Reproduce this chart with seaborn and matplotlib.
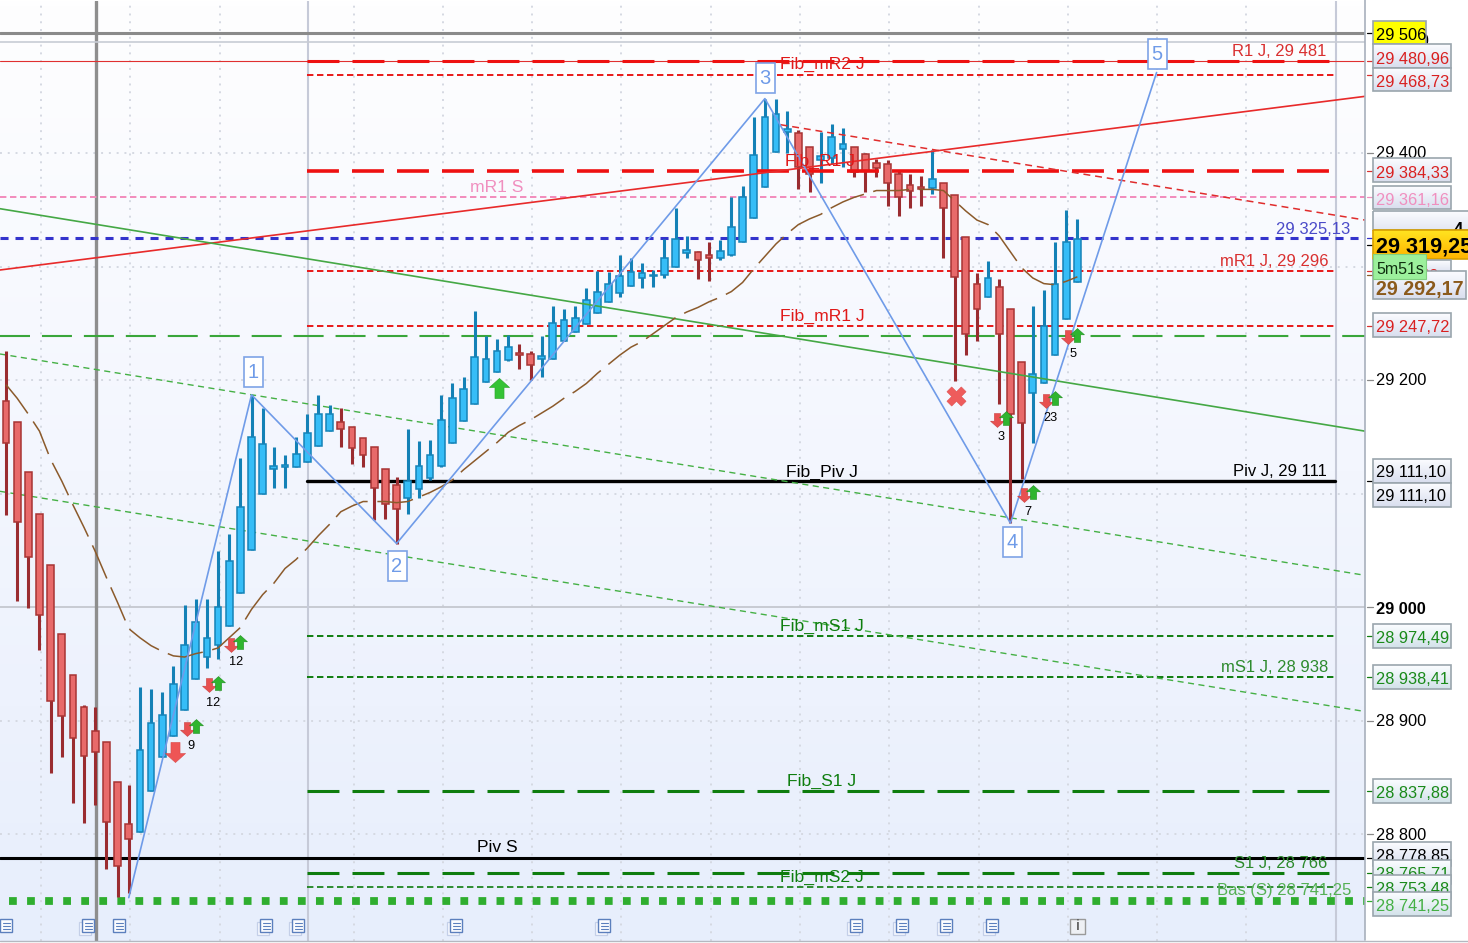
import matplotlib
matplotlib.use("Agg")
import matplotlib.pyplot as plt
import seaborn as sns
import numpy as np
from matplotlib.colors import LinearSegmentedColormap
from matplotlib.patches import Rectangle
from matplotlib.path import Path

# candles
opens = [29182, 29163, 29119, 29082, 29037, 28976, 28940, 28912, 28891, 28881, 28846, 28809,
         28802, 28838, 28868, 28886, 28909, 28937, 28956, 28967, 28983, 29012, 29050, 29100,
         29122, 29123, 29123, 29128, 29142, 29155, 29163, 29159, 29149, 29141, 29122, 29108,
         29096, 29104, 29114, 29124, 29145, 29164, 29179, 29198, 29207, 29218, 29224, 29223,
         29219, 29219, 29234, 29242, 29249, 29259, 29269, 29277, 29283, 29290, 29292, 29293,
         29300, 29312, 29313, 29310, 29308, 29310, 29322, 29343, 29370, 29401, 29419, 29418,
         29405, 29394, 29396, 29404, 29405, 29399, 29391, 29390, 29382, 29372, 29370, 29369,
         29374, 29363, 29326, 29285, 29273, 29282, 29263, 29216, 29189, 29197, 29222, 29254, 29286]
highs = [29226, 29163, 29119, 29082, 29037, 28976, 28940, 28914, 28912, 28881, 28846, 28843,
         28930, 28928, 28925, 28948, 29002, 29007, 29007, 29049, 29064, 29131, 29187, 29175,
         29141, 29134, 29150, 29170, 29187, 29178, 29175, 29159, 29149, 29141, 29122, 29115,
         29157, 29146, 29147, 29187, 29197, 29203, 29261, 29239, 29236, 29240, 29232, 29226,
         29239, 29265, 29263, 29265, 29281, 29296, 29295, 29310, 29308, 29303, 29297, 29324,
         29352, 29327, 29314, 29322, 29323, 29361, 29371, 29432, 29448, 29448, 29437, 29420,
         29405, 29419, 29426, 29422, 29405, 29400, 29395, 29394, 29384, 29382, 29380, 29403,
         29374, 29363, 29326, 29294, 29305, 29289, 29263, 29216, 29265, 29279, 29322, 29350, 29342]
lows = [29081, 29005, 28999, 28962, 28854, 28868, 28827, 28810, 28826, 28769, 28745, 28748,
        28802, 28838, 28868, 28886, 28909, 28937, 28946, 28954, 28983, 29012, 29050, 29100,
        29105, 29105, 29123, 29128, 29142, 29155, 29141, 29126, 29123, 29077, 29078, 29056,
        29082, 29096, 29112, 29123, 29145, 29164, 29179, 29198, 29207, 29217, 29210, 29200,
        29203, 29219, 29234, 29242, 29249, 29259, 29269, 29273, 29283, 29281, 29282, 29290,
        29300, 29308, 29289, 29287, 29306, 29309, 29322, 29343, 29370, 29401, 29400, 29368,
        29366, 29374, 29390, 29388, 29379, 29366, 29379, 29353, 29345, 29352, 29353, 29364,
        29308, 29199, 29222, 29234, 29273, 29179, 29074, 29113, 29145, 29197, 29222, 29254, 29286]
closes = [29145, 29075, 29044, 28993, 28917, 28904, 28885, 28869, 28872, 28811, 28772, 28796,
          28874, 28898, 28905, 28932, 28967, 28987, 28973, 29000, 29041, 29088, 29150, 29144,
          29124, 29125, 29135, 29153, 29170, 29170, 29157, 29140, 29134, 29105, 29091, 29086,
          29111, 29124, 29134, 29165, 29184, 29192, 29220, 29219, 29226, 29229, 29222, 29213,
          29221, 29250, 29253, 29255, 29271, 29278, 29285, 29292, 29295, 29294, 29293, 29308,
          29324, 29315, 29306, 29308, 29314, 29335, 29361, 29398, 29432, 29434, 29421, 29388,
          29382, 29397, 29414, 29408, 29383, 29384, 29387, 29374, 29361, 29367, 29368, 29377,
          29352, 29291, 29241, 29263, 29290, 29241, 29170, 29162, 29205, 29248, 29285, 29322, 29324]

# moving average, one value per candle
moving_avg = [29196, 29184, 29170, 29155, 29130, 29111, 29090, 29070, 29049, 29026, 29004, 28981,
              28973, 28966, 28961, 28957, 28956, 28959, 28961, 28964, 28973, 28982, 28998, 29011,
              29021, 29034, 29042, 29052, 29063, 29073, 29084, 29089, 29093, 29093, 29093, 29092,
              29093, 29097, 29101, 29106, 29112, 29121, 29129, 29137, 29145, 29154, 29160, 29165,
              29171, 29177, 29184, 29190, 29197, 29206, 29214, 29222, 29229, 29234, 29241, 29248,
              29255, 29260, 29264, 29269, 29273, 29278, 29286, 29298, 29309, 29320, 29329, 29337,
              29342, 29346, 29352, 29357, 29361, 29364, 29367, 29367, 29367, 29368, 29368, 29368,
              29367, 29358, 29349, 29341, 29337, 29327, 29313, 29299, 29290, 29285, 29284, 29287, 29291]

# elliott wave pivots
wave_idx = [11, 22, 35, 68, 90, 103.1]
wave_price = [28744, 29187, 29056, 29448, 29074, 29471]

# support / resistance levels
level_r1 = 29480.96
level_fib_mr2 = 29468.73
level_fib_r1 = 29384.33
level_mr1_s = 29361.16
level_blue = 29325.13
level_mr1_j = 29296
level_fib_mr1 = 29247.72
level_green = 29239
level_piv_j = 29111.10
level_fib_ms1 = 28974.49
level_ms1_j = 28938.41
level_fib_s1 = 28837.88
level_piv_s = 28778.85
level_s1_j = 28765.71
level_fib_ms2 = 28753.48
level_bas = 28741.25
level_top = 29506
level_top2 = 29498

# signals: number under each pair of arrows
signal_idx = [16.6, 18.6, 20.6, 89.2, 93.6, 91.6, 95.6]
signal_price = [28893, 28931, 28967, 29165, 29182, 29099, 29238]
signal_count = ["9", "12", "12", "3", "23", "7", "5"]

grid_idx = [3.15, 11.15, 19.15, 31.15, 39.15, 47.15, 55.15, 63.15, 71.15, 79.15, 87.15, 95.15, 103.15, 111.15]
price_ticks = [28800, 28900, 29100, 29200, 29300, 29400]

sns.set_theme(style="white")
plt.rcParams["font.family"] = ["Liberation Sans", "DejaVu Sans"]
plt.rcParams["lines.scale_dashes"] = False

W, H = 1468, 943
fig = plt.figure(figsize=(W / 100, H / 100), dpi=100, facecolor="white")
ax = fig.add_axes([0, 2 / H, 1365 / W, 940 / H])

cmap = LinearSegmentedColormap.from_list("bg", ["#fefeff", "#f3f6fe", "#e7eefc"])
ax.imshow(np.linspace(0, 1, 200).reshape(-1, 1), aspect="auto", cmap=cmap, extent=[0, 1, 0, 1],
          transform=ax.transAxes, zorder=0)

x_lo, x_hi = -6 / 11.16, 1359 / 11.16
ax.set_xlim(x_lo, x_hi)
ax.set_ylim(28705.8, 29534)
ax.set_xticks(grid_idx)
ax.set_yticks(price_ticks)
ax.set_xticklabels([])
ax.set_yticklabels([])
ax.grid(True, color="#d5d9e2", lw=1.4, linestyle=(0, (1.4, 4.2)), zorder=1)
ax.tick_params(left=False, bottom=False)
for s in ax.spines.values():
    s.set_visible(False)
ax.axhline(29000, color="#c4c7cf", lw=1.3, zorder=1)


def draw_line(xs, ys, color, lw, dash=None, z=2):
    sns.lineplot(x=xs, y=ys, ax=ax, color=color, lw=lw, estimator=None, legend=False, zorder=z,
                 linestyle=dash if dash else "-")


def session(price, color, lw, dash, z=2):
    draw_line([27, 119.1], [price, price], color, lw, dash, z)


def full(price, color, lw, dash=None, z=2):
    draw_line([x_lo, x_hi], [price, price], color, lw, dash, z)


LONG = (0, (23, 9.4))
SHORT = (0, (4.6, 2.6))
GREEN_LONG = (0, (21.6, 8.6))

ax.axvline(8.06, color="#8e8e8e", lw=2.4, zorder=2)
ax.axvline(27.06, color="#c6cad8", lw=1.5, zorder=2)
ax.axvline(119.2, color="#c6cad8", lw=1.5, zorder=2)

full(level_top, "#8a8a8a", 2.2)
full(level_top2, "#c8ccd4", 1.2)
full(level_r1, "#e03030", 0.8)
session(level_r1, "#ee1111", 2.2, LONG, 4)
session(level_fib_mr2, "#e81818", 1.4, SHORT)
session(level_fib_r1, "#ee1111", 2.6, LONG, 4)
full(level_mr1_s, "#f28cbc", 1.4, SHORT)
full(level_blue, "#3333cc", 2.2, (0, (5.8, 5)))
session(level_mr1_j, "#e81818", 1.4, SHORT)
session(level_fib_mr1, "#e81818", 1.4, SHORT)
full(level_green, "#3aa63a", 1.5, GREEN_LONG)
session(level_piv_j, "black", 2.4, None)
session(level_fib_ms1, "#0e7d0e", 1.4, SHORT)
session(level_ms1_j, "#0e7d0e", 1.4, SHORT)
session(level_fib_s1, "#0e7d0e", 2.2, LONG)
full(level_piv_s, "black", 2.2)
session(level_s1_j, "#0e7d0e", 2.2, LONG)
session(level_fib_ms2, "#0e7d0e", 1.2, SHORT)
full(level_bas, "#2fae2f", 5.6, (6.5, (5.6, 7.4)))

# trend lines
draw_line([x_lo, x_hi], [29297, 29450], "#e82a2a", 1.2, None, 4)
draw_line([69.4, x_hi], [29425, 29341], "#e02c2c", 1.1, (0, (5, 3.5)), 4)
draw_line([x_lo, x_hi], [29351, 29155], "#45a845", 1.2, None, 4)
draw_line([x_lo, x_hi], [29223, 29028], "#45b045", 1.0, (0, (4.4, 3.2)), 2)
draw_line([x_lo, x_hi], [29102, 28908], "#45b045", 1.0, (0, (4.4, 3.2)), 2)

# candles
o, h, l, c = map(np.array, (opens, highs, lows, closes))
idx = np.arange(len(o))
up = c >= o
ax.vlines(idx[up], l[up], h[up], color="#1481b6", lw=2.2, zorder=3)
ax.vlines(idx[~up], l[~up], h[~up], color="#9a2c30", lw=2.2, zorder=3)
tops = np.maximum(o, c)
bots = np.minimum(o, c)
ax.bar(idx[up], tops[up] - bots[up], bottom=bots[up], width=0.6, color="#36bdf7",
       edgecolor="#1583b8", lw=1.1, zorder=3.2)
ax.bar(idx[~up], tops[~up] - bots[~up], bottom=bots[~up], width=0.6, color="#e86a6a",
       edgecolor="#a83434", lw=1.1, zorder=3.2)

# moving average and wave
draw_line(idx, moving_avg, "#8b5a2b", 1.1, (0, (26, 7)), 4)
draw_line(wave_idx, wave_price, "#6f9be8", 1.2, None, 5)

# arrows
arrow_up = Path([(0, 1), (1, 0.1), (0.45, 0.1), (0.45, -1), (-0.45, -1), (-0.45, 0.1), (-1, 0.1), (0, 1)], closed=True)
arrow_down = Path([(0, -1), (1, -0.1), (0.45, -0.1), (0.45, 1), (-0.45, 1), (-0.45, -0.1), (-1, -0.1), (0, -1)], closed=True)
sx = np.array(signal_idx)
sy = np.array(signal_price)
sns.scatterplot(x=sx - 0.4, y=sy, marker=arrow_down, s=100, color="#e85050", edgecolor="#c94040",
                linewidth=0.4, ax=ax, zorder=6, legend=False)
sns.scatterplot(x=sx + 0.4, y=sy + 2, marker=arrow_up, s=100, color="#2fb52f", edgecolor="#1f8f1f",
                linewidth=0.4, ax=ax, zorder=6, legend=False)
sns.scatterplot(x=[15.14], y=[28872], marker=arrow_down, s=210, color="#ee5555", edgecolor="#d84a4a",
                linewidth=0.4, ax=ax, zorder=6, legend=False)
sns.scatterplot(x=[44.2], y=[29193], marker=arrow_up, s=210, color="#35c335", edgecolor="#2aa02a",
                linewidth=0.4, ax=ax, zorder=6, legend=False)
sns.scatterplot(x=[85.1], y=[29186], marker="X", s=190, color="#ee5c5c", edgecolor="#e05050",
                linewidth=0.4, ax=ax, zorder=6, legend=False)
for sxi, syi, n in zip(sx, sy, signal_count):
    ax.annotate(n, (sxi, syi), xytext=(0, -12.5), textcoords="offset points", ha="center", va="center",
                fontsize=9.2, color="black", zorder=7)

# overlay in image pixels for the price panel and the labels
pan = fig.add_axes([0, 0, 1, 1], zorder=5)
pan.axis("off")
pan.patch.set_alpha(0)

pan.add_patch(Rectangle((1365, 0), 103, H, fc="white", ec="none", zorder=0))
pan.plot([1365, 1365], [0, 940], color="#a8b0bc", lw=1.2, zorder=1)
pan.plot([0, W], [940.5, 940.5], color="#b4b8c0", lw=1.0, zorder=1)

# chart labels
FIB = 12.6
SMALL = 12
chart_labels = [
    ("Fib_mR2 J", 822, 64, "#e01818", FIB, "center"),
    ("Fib_R1 J", 820, 161, "#e01818", FIB, "center"),
    ("mR1 S", 497, 188, "#f08fbf", FIB, "center"),
    ("Fib_mR1 J", 822, 316, "#e01818", FIB, "center"),
    ("Fib_Piv J", 822, 472, "black", FIB, "center"),
    ("Fib_mS1 J", 822, 626, "#0e7d0e", FIB, "center"),
    ("Fib_S1 J", 822, 781, "#0e7d0e", FIB, "center"),
    ("Piv S", 497, 848, "black", FIB, "center"),
    ("Fib_mS2 J", 822, 877, "#0e7d0e", FIB, "center"),
    ("R1 J, 29 481", 1326, 52, "#d93030", SMALL, "right"),
    ("29 325,13", 1350, 229, "#4a4ac8", SMALL, "right"),
    ("mR1 J, 29 296", 1328, 262, "#d93030", SMALL, "right"),
    ("Piv J, 29 111", 1327, 471, "black", SMALL, "right"),
    ("mS1 J, 28 938", 1328, 667, "#2e8b2e", SMALL, "right"),
    ("S1 J, 28 766", 1327, 863, "#2e8b2e", SMALL, "right"),
    ("Bas (S) 28 741,25", 1351, 890, "#55b055", SMALL, "right"),
]
for txt, px, py, col, fs, ha in chart_labels:
    pan.text(px, py, txt, color=col, fontsize=fs, ha=ha, va="center", zorder=3)

# wave numbers
for num, cx, cy in [("1", 253, 372), ("2", 397, 566), ("3", 765, 78), ("4", 1012, 542), ("5", 1157, 54)]:
    pan.add_patch(Rectangle((cx - 9.5, cy - 15), 19, 30, fc="white", ec="#7ea3e6", lw=1.2, zorder=4))
    pan.text(cx, cy + 1, num, color="#6f9be8", fontsize=14.5, ha="center", va="center", zorder=5)

# price panel ticks
y_of = lambda p: (29534 - p) / 0.8811 + 1
for p, col in [(29506, "black"), (29480.96, "#d93030"), (29468.73, "#d93030"), (29400, "#888888"),
               (29384.33, "#d93030"), (29361.16, "#f08fbf"), (29325.13, "#3333cc"), (29319.25, "black"),
               (29296, "#d93030"), (29292.17, "#8b5a2b"), (29247.72, "#d93030"), (29200, "#888888"),
               (29111.1, "black"), (29000, "#888888"), (28974.49, "#0e7d0e"), (28938.41, "#0e7d0e"),
               (28900, "#888888"), (28837.88, "#0e7d0e"), (28800, "#888888"), (28778.85, "black"),
               (28765.71, "#0e7d0e"), (28753.48, "#0e7d0e"), (28741.25, "#2fae2f")]:
    pan.plot([1367, 1373], [y_of(p), y_of(p)], color=col, lw=0.9, zorder=2)

# plain axis numbers
pan.text(1379, 41, "29 500", fontsize=11.8, fontweight="bold", va="center", color="black", zorder=2)
for txt, py in [("29 400", 154), ("29 200", 380.5), ("28 900", 721.5), ("28 800", 835.5)]:
    pan.text(1376, py, txt, fontsize=11.8, va="center", color="black", zorder=2)
pan.text(1376, 609.5, "29 000", fontsize=11.8, fontweight="bold", va="center", color="black", zorder=2)

blend = np.linspace(0, 1, 32).reshape(-1, 1)


def grad_box(bx, by, bw, bh, colors, z, edge="#9aa5ad"):
    cm = LinearSegmentedColormap.from_list("box", colors)
    pan.imshow(blend, aspect="auto", cmap=cm, extent=[bx, bx + bw, by + bh, by], zorder=z)
    pan.add_patch(Rectangle((bx, by), bw, bh, fc="none", ec=edge, lw=1.2, zorder=z + 0.1))


# boxed prices, later ones sit on top of earlier ones
PLAIN = ["#fbfcff", "#d9deee"]
GREENISH = ["#fbfdff", "#d3e2ea"]
boxes = [
    ("29 506", 1373, 21, 53, 23, "black", ["#ffff00", "#ffff00"], 35),
    ("29 480,96", 1373, 44, 78, 24, "#d92020", PLAIN, 59.5),
    ("29 468,73", 1373, 68, 78, 23, "#d92020", PLAIN, 82.5),
    ("29 384,33", 1373, 158, 78, 24, "#d92020", PLAIN, 173.5),
    ("29 361,16", 1373, 186, 78, 23, "#f08fbf", PLAIN, 200.5),
    ("29 247,72", 1373, 313, 78, 24, "#d92020", PLAIN, 327.5),
    ("29 111,10", 1373, 459, 78, 24, "black", PLAIN, 472.5),
    ("29 111,10", 1373, 483, 78, 24, "black", PLAIN, 496.5),
    ("28 974,49", 1373, 624, 78, 24, "#1a8a1a", GREENISH, 638.5),
    ("28 938,41", 1373, 665, 78, 24, "#1a8a1a", GREENISH, 679.5),
    ("28 837,88", 1373, 779, 78, 24, "#1a8a1a", GREENISH, 793.5),
    ("28 778,85", 1373, 842, 78, 24, "black", PLAIN, 856.5),
    ("28 765,71", 1373, 860, 78, 24, "#1a8a1a", GREENISH, 874.5),
    ("28 753,48", 1373, 875, 78, 24, "#1a8a1a", GREENISH, 889.5),
    ("28 741,25", 1373, 892, 78, 24, "#45b045", GREENISH, 906.5),
]
for i, (txt, bx, by, bw, bh, col, fc, ty) in enumerate(boxes):
    z = 10 + i * 2
    grad_box(bx, by, bw, bh, fc, z)
    pan.text(bx + 3, ty, txt, color=col, fontsize=11.8, va="center", zorder=z + 1)

# last price block
grad_box(1373, 211, 100, 19, ["#fbfcff", "#e3e7f2"], 40)
pan.text(1458, 229, "4", fontsize=12, fontweight="bold", ha="center", va="center", color="black", zorder=41)
grad_box(1373, 230, 100, 29, ["#ffe320", "#ffb400"], 42, edge="#d8a000")
pan.text(1376, 247, "29 319,25", fontsize=15.6, fontweight="bold", va="center", color="black", zorder=43)
grad_box(1373, 260, 78, 14, PLAIN, 44)
pan.text(1420, 276.5, "92", fontsize=11.8, color="#d92020", va="center", zorder=45,
         clip_on=True, clip_path=Rectangle((1373, 260), 78, 14, transform=pan.transData))
grad_box(1373, 271, 93, 28, PLAIN, 46)
pan.text(1376, 289, "29 292,17", fontsize=14.2, fontweight="bold", va="center", color="#8b5a1b", zorder=47)
pan.add_patch(Rectangle((1373, 254), 53, 25, fc="#9cf09c", ec="#80d080", lw=0.8, zorder=48))
pan.text(1376, 269, "5m51s", fontsize=11.5, va="center", color="#103010", zorder=49)


def doc_icon(px, double):
    py = 926
    if double:
        pan.add_patch(Rectangle((px - 9, py - 4), 12, 13, fc="#f4f6fd", ec="#c4cfe8", lw=0.9, zorder=3))
    pan.add_patch(Rectangle((px - 6, py - 7), 12, 13, fc="#fbfcff", ec="#5b7fbd", lw=1.0, zorder=4))
    for dy in (-3, 0, 3):
        pan.plot([px - 3.5, px + 3.5], [py + dy, py + dy], color="#5b7fbd", lw=0.8, zorder=5)


for px, dbl in [(6, False), (88, True), (119, False), (266, True), (298, True), (456, True),
                (604, True), (856, True), (902, True), (946, True), (992, True)]:
    doc_icon(px, dbl)
pan.add_patch(Rectangle((1070, 919), 15, 15, fc="#eef0f4", ec="#9a9a9a", lw=1.0, zorder=4))
pan.text(1077.5, 926.5, "i", fontsize=10, fontweight="bold", ha="center", va="center", color="#666666", zorder=5)

# imshow resets the limits, so fix them last
pan.set_xlim(0, W)
pan.set_ylim(H, 0)

fig.savefig("out.png", dpi=100, facecolor="white")
